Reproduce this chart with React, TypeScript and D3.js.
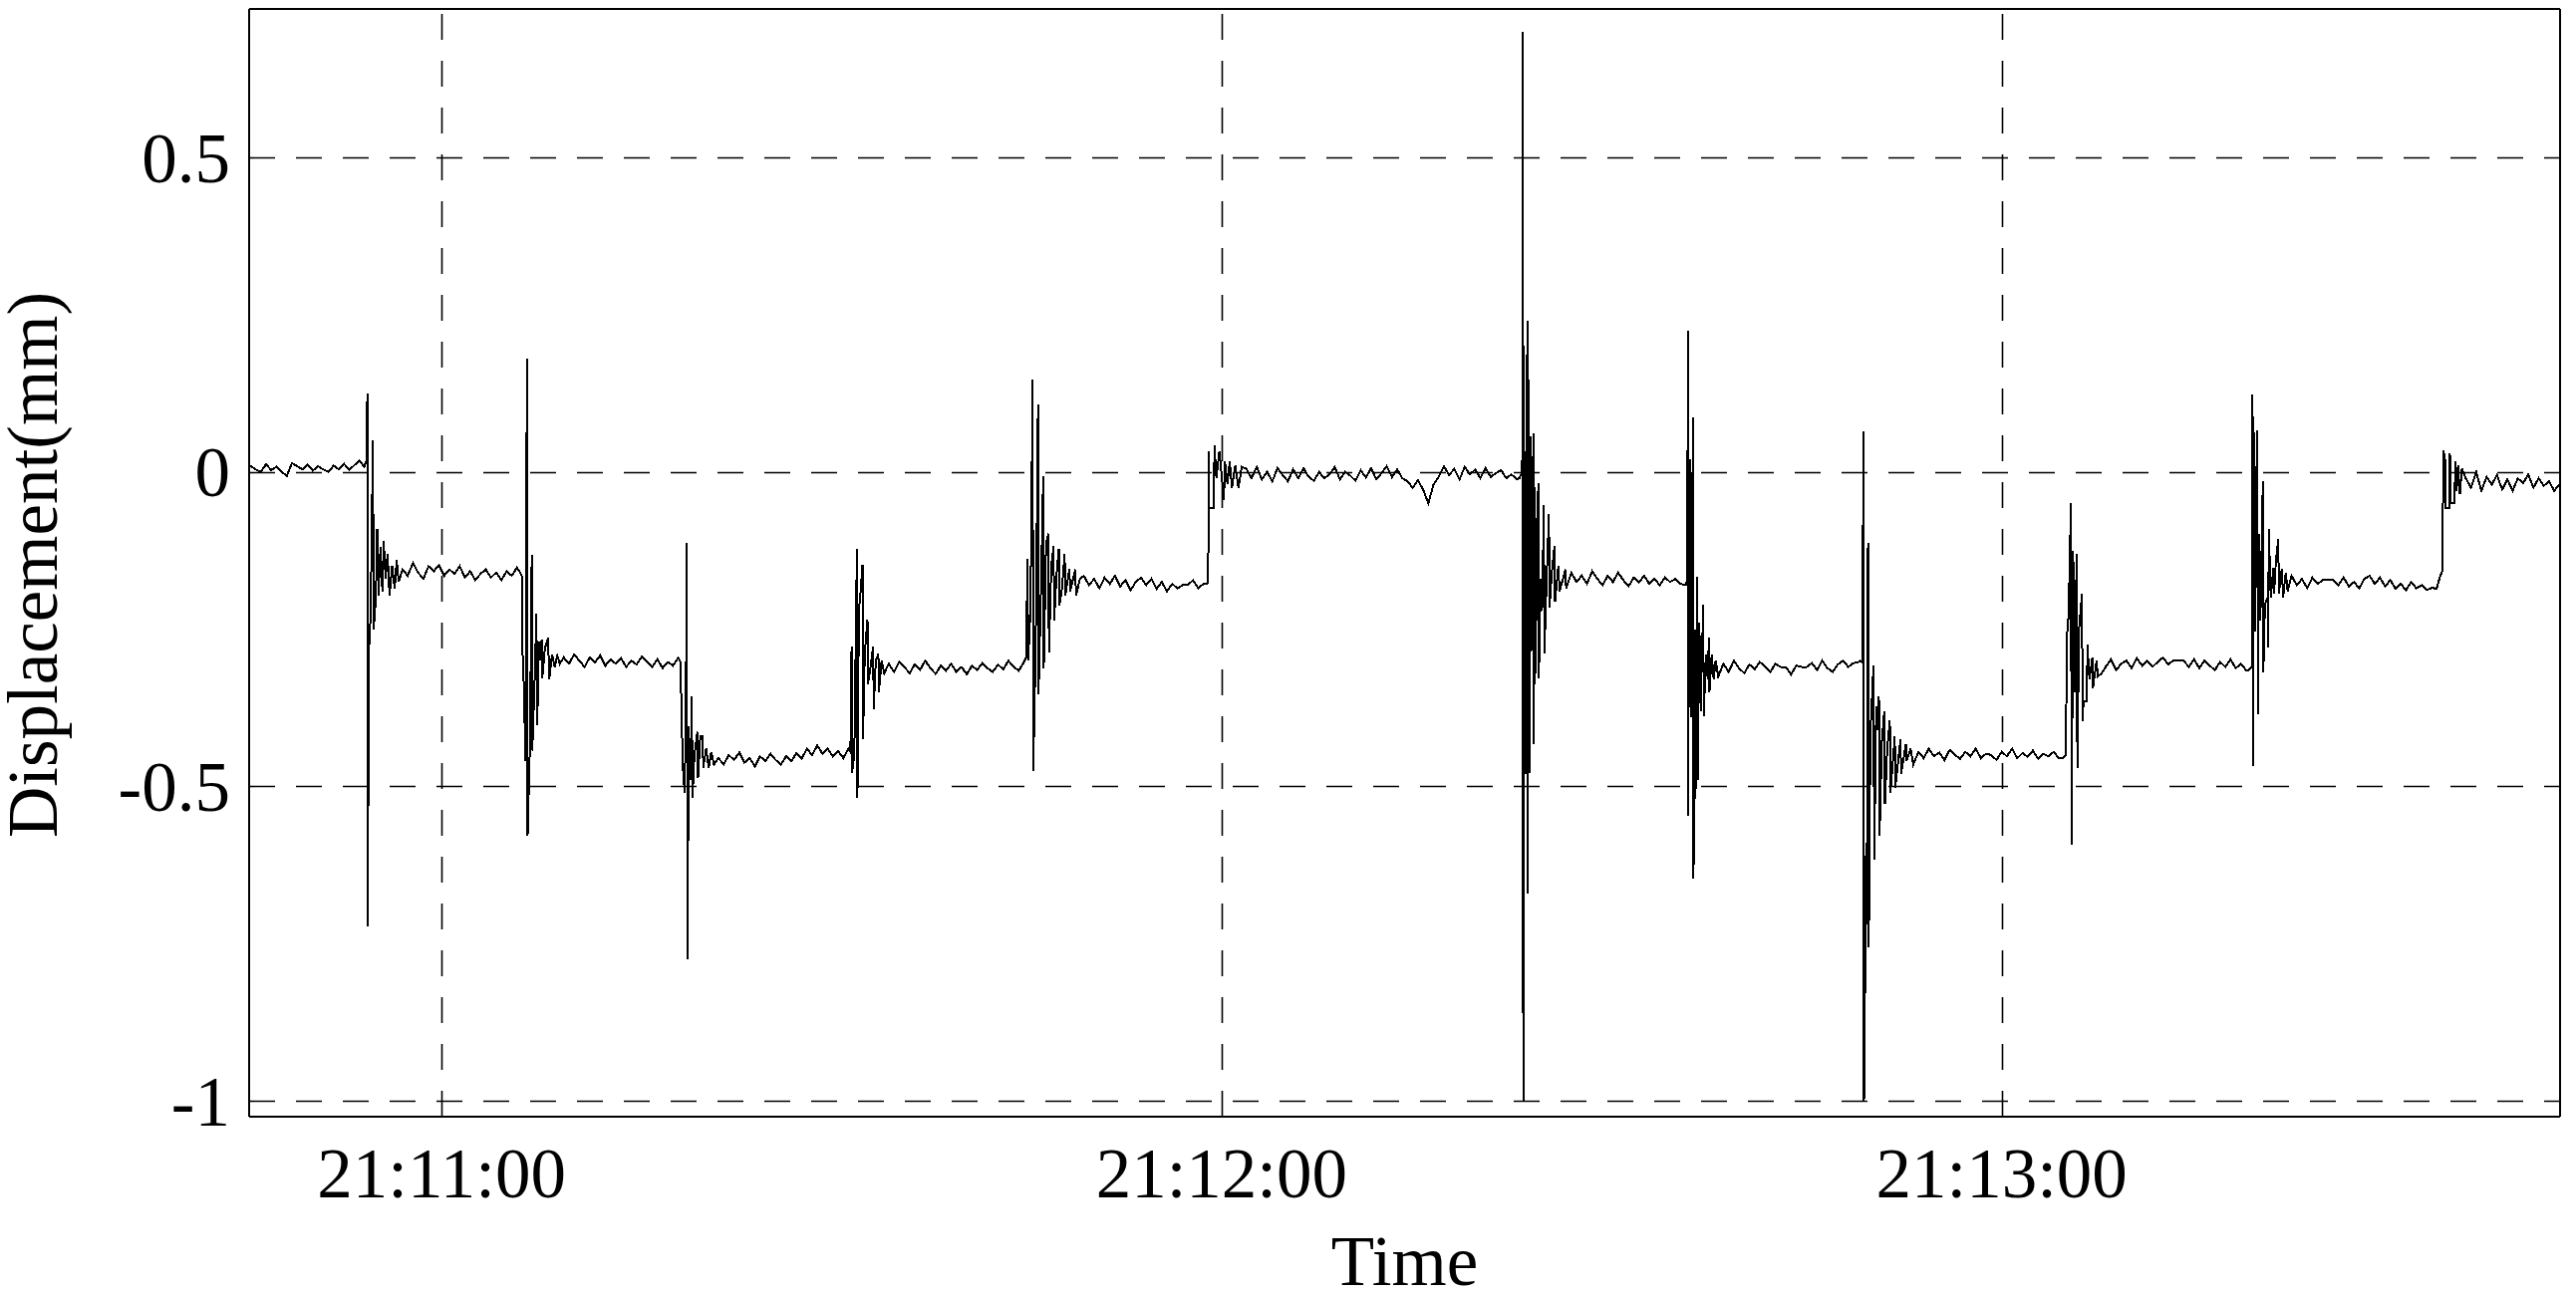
import React, { useEffect } from 'react';
import * as d3 from 'd3';

// ---------- axes / ticks ----------
const yTicks = [-1, -0.5, 0, 0.5];
const yTickLabels = ['-1', '-0.5', '0', '0.5'];
const xTickLabels = ['21:11:00', '21:12:00', '21:13:00'];
const xDomainSeconds = [-14.8, 162.95]; // seconds relative to 21:11:00
const yDomain = [-1.025, 0.736];

// ---------- data: plateaus (start second, step, values) ----------
const plateau0 = [0.01, 0.004, 0.0, 0.012, 0.003, 0.008, 0.0, -0.006, 0.014, 0.009, 0.004, 0.012, 0.002, 0.009, 0.004, 0.0, 0.01, 0.004, 0.013, 0.003, 0.011, 0.018];
const plateau2 = [-0.155, -0.165, -0.145, -0.16, -0.17, -0.15, -0.158, -0.148, -0.165, -0.155, -0.162, -0.15, -0.168, -0.158, -0.172, -0.162, -0.155, -0.168, -0.16, -0.172, -0.158, -0.165, -0.152];
const plateau3 = [-0.295, -0.305, -0.29, -0.3, -0.31, -0.295, -0.303, -0.292, -0.308, -0.298, -0.305, -0.296, -0.31, -0.3, -0.306, -0.294, -0.302, -0.31, -0.298, -0.312, -0.302, -0.308, -0.296];
const plateau4 = [-0.455, -0.465, -0.45, -0.458, -0.446, -0.462, -0.455, -0.468, -0.452, -0.46, -0.448, -0.458, -0.465, -0.452, -0.46, -0.447, -0.456, -0.44, -0.45, -0.435, -0.448, -0.44, -0.452, -0.444, -0.455, -0.44];
const plateau5 = [-0.305, -0.318, -0.302, -0.31, -0.32, -0.306, -0.315, -0.3, -0.312, -0.321, -0.308, -0.316, -0.305, -0.318, -0.31, -0.322, -0.308, -0.315, -0.304, -0.312, -0.318, -0.306, -0.314, -0.3, -0.31, -0.316, -0.302];
const plateau6 = [-0.165, -0.18, -0.17, -0.185, -0.168, -0.178, -0.165, -0.182, -0.172, -0.188, -0.175, -0.168, -0.18, -0.17, -0.186, -0.175, -0.19, -0.178, -0.185, -0.18, -0.18, -0.172, -0.185, -0.178];
const plateau7 = [
  0.005, -0.01, 0.008, -0.012, 0.0, -0.015, 0.006, -0.005, -0.015, 0.004,
  -0.01, 0.006, -0.008, -0.014, 0.0, -0.01, -0.004, 0.008, -0.012, 0.0,
  -0.006, -0.014, 0.003, -0.009, 0.006, -0.012, -0.002, 0.009, -0.008, 0.004,
  -0.01, -0.015, -0.025, -0.013, -0.028, -0.05, -0.02, -0.008, 0.009, -0.005,
  0.005, -0.012, 0.008, -0.004, 0.004, -0.01, 0.006, -0.008, -0.002, 0.003,
  -0.01, -0.004, -0.012,
];
const plateau8 = [-0.16, -0.175, -0.165, -0.178, -0.158, -0.17, -0.18, -0.165, -0.175, -0.16, -0.172, -0.182, -0.168, -0.176, -0.165, -0.178, -0.17, -0.18, -0.168, -0.175, -0.17, -0.178];
const plateau9 = [-0.305, -0.318, -0.3, -0.312, -0.32, -0.306, -0.314, -0.302, -0.31, -0.318, -0.305, -0.31, -0.31, -0.322, -0.308, -0.31, -0.31, -0.304, -0.315, -0.3, -0.312, -0.318, -0.306, -0.3, -0.31, -0.304, -0.302];
const plateau10 = [-0.445, -0.455, -0.44, -0.452, -0.446, -0.458, -0.442, -0.45, -0.456, -0.445, -0.452, -0.44, -0.455, -0.448, -0.45, -0.458, -0.445, -0.452, -0.44, -0.455, -0.447, -0.453, -0.443, -0.456, -0.448, -0.452, -0.445, -0.455];
const plateau11 = [-0.31, -0.298, -0.315, -0.305, -0.3, -0.312, -0.296, -0.308, -0.3, -0.31, -0.302, -0.295, -0.306, -0.3, -0.3, -0.3, -0.31, -0.298, -0.312, -0.3, -0.308, -0.315, -0.302, -0.31, -0.298, -0.312, -0.305, -0.315];
const plateau12 = [-0.165, -0.18, -0.17, -0.185, -0.168, -0.178, -0.172, -0.172, -0.172, -0.18, -0.168, -0.182, -0.175, -0.185, -0.17, -0.165, -0.178, -0.168, -0.182, -0.172, -0.186, -0.178, -0.188, -0.175, -0.185, -0.18, -0.188, -0.184];
const plateau13 = [-0.01, -0.025, 0.0, -0.03, -0.008, -0.02, -0.005, -0.028, -0.012, -0.03, -0.01, -0.018, -0.004, -0.025, -0.01, -0.022, -0.015, -0.03, -0.02, -0.028];

const plateauStarts = [-14.7, -3.0, 9.4, 21.3, 34.4, 49.4, 61.9, 86.9, 98.6, 113.6, 128.0, 142.3, 155.7];
const plateauStep = 0.4;

// ---------- data: transitions ([second, value]) ----------
const transition1: [number, number][] = [[-5.95, 0.008], [-5.75, 0.02], [-5.71, 0.124], [-5.67, -0.723], [-5.6, -0.29], [-5.45, -0.226], [-5.28, 0.05], [-5.22, -0.25], [-5.05, -0.2], [-4.95, -0.09], [-4.85, -0.196], [-4.7, -0.12], [-4.55, -0.19], [-4.45, -0.11], [-4.3, -0.17], [-4.15, -0.13], [-4.0, -0.196], [-3.8, -0.15], [-3.6, -0.185], [-3.45, -0.14], [-3.3, -0.175]];
const transition2: [number, number][] = [[6.05, -0.16], [6.17, -0.165], [6.21, -0.274], [6.35, -0.35], [6.45, -0.46], [6.57, 0.18], [6.62, -0.578], [6.8, -0.436], [6.94, -0.132], [6.98, -0.443], [7.15, -0.34], [7.3, -0.226], [7.36, -0.402], [7.5, -0.27], [7.6, -0.3], [7.7, -0.267], [7.75, -0.328], [7.95, -0.28], [8.2, -0.264], [8.28, -0.33], [8.5, -0.29], [8.7, -0.31], [8.9, -0.292], [9.1, -0.305]];
const transition3: [number, number][] = [[18.35, -0.3], [18.43, -0.353], [18.55, -0.466], [18.7, -0.51], [18.78, -0.405], [18.87, -0.113], [18.91, -0.774], [19.02, -0.405], [19.12, -0.49], [19.2, -0.45], [19.25, -0.357], [19.3, -0.518], [19.45, -0.45], [19.68, -0.413], [19.73, -0.486], [19.9, -0.42], [20.08, -0.42], [20.13, -0.47], [20.35, -0.44], [20.55, -0.47], [20.75, -0.445], [20.95, -0.465]];
const transition4: [number, number][] = [[31.45, -0.445], [31.54, -0.277], [31.58, -0.478], [31.75, -0.45], [31.95, -0.123], [31.99, -0.518], [32.1, -0.217], [32.2, -0.2], [32.38, -0.147], [32.42, -0.425], [32.55, -0.29], [32.76, -0.235], [32.8, -0.337], [33.0, -0.31], [33.2, -0.277], [33.24, -0.377], [33.4, -0.3], [33.6, -0.289], [33.64, -0.35], [33.85, -0.3], [34.05, -0.32]];
const transition5: [number, number][] = [[44.95, -0.296], [45.08, -0.138], [45.12, -0.3], [45.3, -0.221], [45.47, 0.147], [45.51, -0.476], [45.7, -0.28], [45.88, 0.107], [45.92, -0.353], [46.1, -0.194], [46.28, -0.007], [46.32, -0.312], [46.5, -0.114], [46.68, -0.098], [46.72, -0.287], [46.9, -0.15], [47.08, -0.117], [47.12, -0.237], [47.3, -0.165], [47.48, -0.122], [47.52, -0.213], [47.7, -0.19], [47.93, -0.13], [47.97, -0.197], [48.3, -0.154], [48.35, -0.19], [48.75, -0.155], [48.8, -0.197], [49.1, -0.17]];
const transition6: [number, number][] = [[58.85, -0.178], [58.97, -0.176], [59.0, 0.033], [59.05, -0.058], [59.4, -0.058], [59.45, 0.042], [59.6, -0.01], [59.83, 0.033], [60.18, -0.045], [60.25, 0.017], [60.45, -0.02], [60.62, 0.017], [60.8, -0.025], [61.05, 0.01], [61.3, -0.025], [61.55, 0.008]];
const transition7: [number, number][] = [[82.9, -0.01], [83.12, 0.0], [83.16, 0.7], [83.2, -1.0], [83.26, 0.2], [83.3, -0.285], [83.4, -0.48], [83.45, 0.0], [83.52, 0.24], [83.56, -0.67], [83.65, 0.147], [83.69, -0.478], [83.77, 0.056], [83.81, -0.285], [83.9, -0.12], [83.98, 0.061], [84.02, -0.433], [84.11, -0.024], [84.15, -0.32], [84.25, -0.13], [84.36, -0.018], [84.4, -0.328], [84.55, -0.17], [84.65, -0.22], [84.79, -0.052], [84.83, -0.288], [85.0, -0.17], [85.18, -0.067], [85.22, -0.215], [85.4, -0.16], [85.61, -0.117], [85.65, -0.206], [85.9, -0.15], [86.0, -0.19], [86.45, -0.155], [86.5, -0.185]];
const transition8: [number, number][] = [[95.7, -0.18], [95.83, -0.17], [95.86, 0.224], [95.9, -0.547], [95.95, -0.15], [96.0, 0.02], [96.1, -0.39], [96.15, -0.22], [96.26, 0.086], [96.3, -0.647], [96.38, -0.25], [96.45, -0.52], [96.5, -0.42], [96.58, -0.166], [96.62, -0.49], [96.75, -0.24], [96.85, -0.38], [96.95, -0.29], [97.05, -0.211], [97.09, -0.388], [97.25, -0.29], [97.4, -0.33], [97.48, -0.263], [97.52, -0.351], [97.7, -0.29], [97.85, -0.33], [98.0, -0.3], [98.2, -0.325]];
const transition9: [number, number][] = [[109.1, -0.3], [109.3, -0.303], [109.36, 0.065], [109.41, -1.0], [109.5, -0.805], [109.56, -0.61], [109.62, -0.72], [109.72, -0.113], [109.78, -0.755], [109.9, -0.417], [110.14, -0.307], [110.2, -0.617], [110.35, -0.372], [110.45, -0.41], [110.56, -0.356], [110.61, -0.578], [110.78, -0.43], [110.97, -0.38], [111.02, -0.528], [111.2, -0.44], [111.4, -0.395], [111.45, -0.51], [111.78, -0.42], [111.82, -0.502], [112.22, -0.425], [112.27, -0.48], [112.63, -0.433], [112.68, -0.46], [113.0, -0.44], [113.2, -0.465]];
const transition10: [number, number][] = [[124.7, -0.455], [124.95, -0.45], [125.0, -0.267], [125.15, -0.227], [125.33, -0.049], [125.38, -0.593], [125.5, -0.125], [125.6, -0.35], [125.77, -0.13], [125.82, -0.47], [125.95, -0.25], [126.18, -0.194], [126.22, -0.396], [126.3, -0.364], [126.55, -0.364], [126.6, -0.275], [126.75, -0.33], [126.98, -0.295], [127.02, -0.344], [127.3, -0.3], [127.4, -0.325], [127.7, -0.32]];
const transition11: [number, number][] = [[139.0, -0.315], [139.25, -0.31], [139.28, 0.123], [139.32, -0.468], [139.37, 0.089], [139.42, -0.024], [139.5, -0.253], [139.55, -0.064], [139.66, 0.066], [139.71, -0.385], [139.8, -0.098], [139.9, -0.237], [140.09, -0.015], [140.13, -0.319], [140.25, -0.21], [140.45, -0.2], [140.5, -0.279], [140.55, -0.09], [140.7, -0.2], [140.9, -0.152], [140.95, -0.194], [141.1, -0.14], [141.28, -0.106], [141.32, -0.194], [141.55, -0.154], [141.65, -0.2], [141.85, -0.16], [142.0, -0.19]];
const transition12: [number, number][] = [[153.45, -0.186], [153.7, -0.168], [153.9, -0.157], [153.98, 0.035], [154.1, 0.02], [154.15, -0.058], [154.45, -0.058], [154.48, 0.03], [154.52, -0.05], [154.85, -0.05], [154.88, 0.017], [155.0, -0.03], [155.1, 0.01], [155.25, -0.035], [155.4, 0.005]];

const plateaus = [plateau0, plateau2, plateau3, plateau4, plateau5, plateau6, plateau7, plateau8, plateau9, plateau10, plateau11, plateau12, plateau13];
const transitions = [transition1, transition2, transition3, transition4, transition5, transition6, transition7, transition8, transition9, transition10, transition11, transition12];

const BASE = new Date(2020, 0, 1, 21, 11, 0).getTime();
const toDate = (s: number) => new Date(BASE + s * 1000);

function buildSeries() {
  const pts: { t: Date; v: number }[] = [];
  plateaus.forEach((vals, k) => {
    vals.forEach((v, i) => pts.push({ t: toDate(plateauStarts[k] + i * plateauStep), v }));
    if (k < transitions.length) transitions[k].forEach(([s, v]) => pts.push({ t: toDate(s), v }));
  });
  pts.sort((a, b) => a.t.getTime() - b.t.getTime());
  return pts;
}

const W = 2585;
const H = 1299;
const L = 250, R = 2569, T = 9, B = 1121;
const FONT = '"Liberation Serif", "Times New Roman", serif';
const FS = 71;

export default function App() {
  useEffect(() => {
    document.body.style.margin = '0';
  }, []);
  const x = d3.scaleTime().domain([toDate(xDomainSeconds[0]), toDate(xDomainSeconds[1])]).range([L, R]);
  const y = d3.scaleLinear().domain(yDomain).range([B, T]);
  const series = buildSeries();
  const line = d3.line<{ t: Date; v: number }>().x(d => x(d.t)).y(d => y(d.v));
  const parseT = d3.timeParse('%H:%M:%S');
  const xTickDates = xTickLabels.map(s => {
    const p = parseT(s)!;
    return new Date(2020, 0, 1, p.getHours(), p.getMinutes(), p.getSeconds());
  });
  const fmt = d3.timeFormat('%H:%M:%S');

  return (
    <div style={{ position: 'absolute', left: 0, top: 0 }}>
      <svg width={W} height={H} style={{ display: 'block', background: '#fff' }}>
        <defs>
          <clipPath id="plotClip">
            <rect x={L} y={T} width={R - L} height={B - T} />
          </clipPath>
        </defs>
        <rect x={0} y={0} width={W} height={H} fill="#fff" />
        {/* grid */}
        <g stroke="#000" strokeWidth={1.6} strokeDasharray="26,21">
          {yTicks.map(v => (
            <line key={'h' + v} x1={L} x2={R} y1={Math.round(y(v)) + 0.5} y2={Math.round(y(v)) + 0.5} />
          ))}
          {xTickDates.map((d, i) => (
            <line key={'v' + i} x1={Math.round(x(d)) + 0.5} x2={Math.round(x(d)) + 0.5} y1={B} y2={T} />
          ))}
        </g>
        {/* data */}
        <g clipPath="url(#plotClip)">
          <path d={line(series) || ''} fill="none" stroke="#000" strokeWidth={2} strokeLinejoin="miter" shapeRendering="crispEdges" />
        </g>
        {/* box */}
        <g stroke="#000" shapeRendering="crispEdges">
          <line x1={L} x2={R} y1={T} y2={T} strokeWidth={1.4} />
          <line x1={L} x2={R} y1={B} y2={B} strokeWidth={1.8} />
          <line x1={L} x2={L} y1={T} y2={B} strokeWidth={2} />
          <line x1={R} x2={R} y1={T} y2={B} strokeWidth={2.8} />
        </g>
        {/* y tick labels */}
        <g fontFamily={FONT} fontSize={FS} fill="#000" textAnchor="end">
          {yTicks.map((v, i) => (
            <text key={'yl' + v} x={231} y={y(v) + 24.5}>{yTickLabels[i]}</text>
          ))}
        </g>
        {/* x tick labels */}
        <g fontFamily={FONT} fontSize={FS} fill="#000" textAnchor="middle">
          {xTickDates.map((d, i) => (
            <text key={'xl' + i} x={x(d)} y={1202}>{fmt(d)}</text>
          ))}
        </g>
        <text x={(L + R) / 2} y={1290} fontFamily={FONT} fontSize={FS} textAnchor="middle">Time</text>
        <text transform={`translate(57, ${(T + B) / 2 + 2}) rotate(-90)`} fontFamily={FONT} fontSize={FS} textAnchor="middle">Displacement(mm)</text>
      </svg>
    </div>
  );
}
